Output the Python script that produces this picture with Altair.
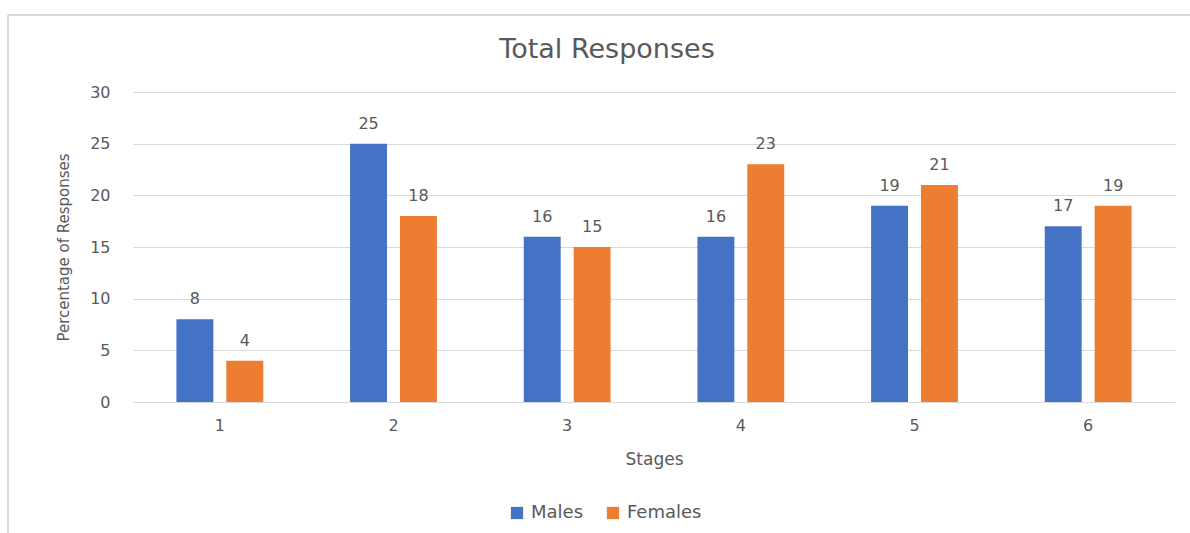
import altair as alt
import pandas as pd

# Share of responses per stage, by gender
stages = ["1", "2", "3", "4", "5", "6"]
males = [8, 25, 16, 16, 19, 17]
females = [4, 18, 15, 23, 21, 19]
series_names = ["Males", "Females"]
series_colors = ["#4472C4", "#ED7D31"]
chart_title = "Total Responses"

rows = []
for i, s in enumerate(stages):
    rows.append({"Stage": s, "Gender": "Males", "Value": males[i]})
    rows.append({"Stage": s, "Gender": "Females", "Value": females[i]})
df = pd.DataFrame(rows)
one_row = pd.DataFrame({"t": [chart_title]})

FONT = "DejaVu Sans"
GREY = "#595959"
LINE = "#D9D9D9"

x_enc = alt.X(
    "Stage:N",
    sort=stages,
    scale=alt.Scale(paddingInner=0.5, paddingOuter=0.25),
    axis=alt.Axis(
        title="Stages",
        labelAngle=0,
        labelFont=FONT,
        labelFontSize=16,
        labelColor=GREY,
        labelBaseline="middle",
        labelPadding=23,
        ticks=False,
        domainColor=LINE,
        domainWidth=1,
        titleFont=FONT,
        titleFontSize=17,
        titleFontWeight="normal",
        titleColor=GREY,
        titleBaseline="middle",
        titleY=57,
    ),
)
xoff_enc = alt.XOffset(
    "Gender:N", sort=series_names, scale=alt.Scale(paddingInner=0.26, paddingOuter=0)
)
color_enc = alt.Color(
    "Gender:N",
    sort=series_names,
    scale=alt.Scale(domain=series_names, range=series_colors),
    legend=alt.Legend(
        title=None,
        orient="none",
        direction="horizontal",
        legendX=375,
        legendY=412,
        symbolType="square",
        symbolSize=150,
        symbolStrokeWidth=0,
        labelFont=FONT,
        labelFontSize=18,
        labelColor=GREY,
        labelOffset=5,
        columnPadding=20,
    ),
)

bars = alt.Chart(df).mark_bar().encode(
    x=x_enc,
    xOffset=xoff_enc,
    y=alt.Y(
        "Value:Q",
        scale=alt.Scale(domain=[0, 30], nice=False),
        axis=alt.Axis(
            values=[0, 5, 10, 15, 20, 25, 30],
            title="Percentage of Responses",
            labelFont=FONT,
            labelFontSize=16,
            labelColor=GREY,
            labelPadding=23,
            ticks=False,
            domain=False,
            grid=True,
            gridColor=LINE,
            gridWidth=1,
            titleFont=FONT,
            titleFontSize=15,
            titleFontWeight="normal",
            titleColor=GREY,
            titleAngle=270,
            titleAlign="center",
            titleBaseline="middle",
            titleX=-70,
            titleY=155,
        ),
    ),
    color=color_enc,
)

labels = alt.Chart(df).mark_text(
    font=FONT, fontSize=16, color=GREY, baseline="middle", dy=-20
).encode(
    x=alt.X("Stage:N", sort=stages),
    xOffset=alt.XOffset("Gender:N", sort=series_names),
    y=alt.Y("Value:Q"),
    text=alt.Text("Value:Q"),
)

# Chart heading, centred over the chart box
heading = alt.Chart(one_row).mark_text(
    font=FONT, fontSize=27, color=GREY, align="center", baseline="middle"
).encode(x=alt.value(474), y=alt.value(-42), text="t:N")

# Light frame around the chart area
frame_top = alt.Chart(one_row).mark_rule(color=LINE, strokeWidth=2).encode(
    x=alt.value(-125), x2=alt.value(1060), y=alt.value(-77)
)
frame_left = alt.Chart(one_row).mark_rule(color=LINE, strokeWidth=2).encode(
    x=alt.value(-125), y=alt.value(-77), y2=alt.value(445)
)

chart = (
    alt.layer(frame_top, frame_left, heading, bars, labels)
    .properties(
        width=1042,
        height=310,
        autosize=alt.AutoSizeParams(type="none"),
        padding={"left": 133, "top": 92, "right": 15, "bottom": 131},
        background="white",
    )
    .configure_view(stroke=None)
)

chart.save("out.html", embed_options={"renderer": "svg", "actions": False})
